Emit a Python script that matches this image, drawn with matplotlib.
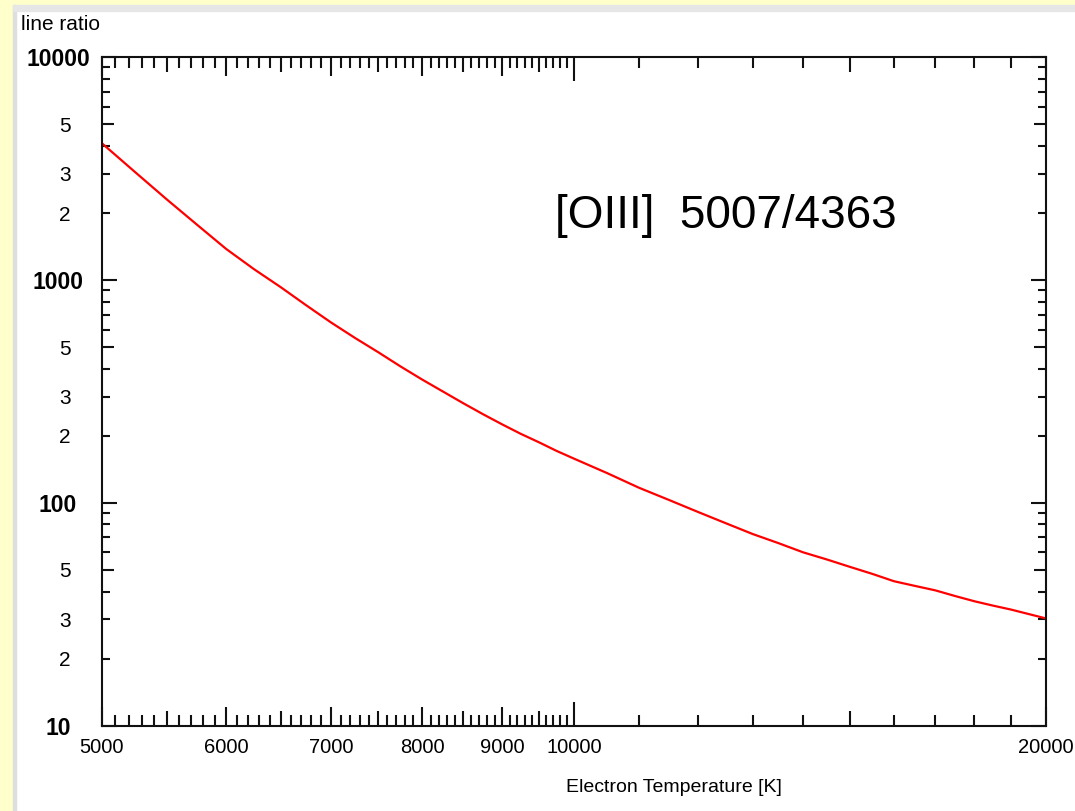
import numpy as np
import matplotlib
matplotlib.use("Agg")
import matplotlib.pyplot as plt
from matplotlib.patches import Rectangle

# values
temp = [5000, 5250, 5500, 5750, 6000, 6250, 6500, 6750, 7000, 7250, 7500, 7750,
        8000, 8250, 8500, 8750, 9000, 9250, 9500, 9750, 10000,
        10500, 11000, 11500, 12000, 12500, 13000, 13500, 14000, 14500, 15000,
        15500, 16000, 16500, 17000, 17500, 18000, 18500, 19000, 19500, 20000]
ratio = [4110, 3050, 2300, 1770, 1380, 1120, 930, 770, 645, 550, 475, 410,
         358, 316, 280, 250, 225, 204, 187, 171, 158,
         136, 117, 103, 91, 81, 72.5, 66, 60, 55.7, 51.6,
         48, 44.5, 42.4, 40.5, 38.2, 36.2, 34.6, 33.2, 31.7, 30.3]

x_major = [5000, 6000, 7000, 8000, 9000, 10000, 20000]
x_major_lab = ["5000", "6000", "7000", "8000", "9000", "10000", "20000"]
x_minor = [t for t in range(5100, 10000, 100) if t % 1000 != 0] + list(range(11000, 20000, 1000))
y_major = [10, 100, 1000, 10000]
y_major_lab = ["10", "100", "1000", "10000"]
y_minor = [m * d for d in (10, 100, 1000) for m in range(2, 10)]
y_minor_lab = [str(m) if m in (2, 3, 5) else "" for d in (10, 100, 1000) for m in range(2, 10)]

fam = ["Liberation Sans", "DejaVu Sans"]
px = 0.72  # points per pixel at dpi 100

fig = plt.figure(figsize=(10.75, 8.11), dpi=100, facecolor="white")
W, H = 1075, 811
# yellow page border + grey frame
fig.patches.append(Rectangle((0, 0), 13 / W, 1, transform=fig.transFigure, color="#FFFFCC", zorder=0))
fig.patches.append(Rectangle((0, 1 - 5 / H), 1, 5 / H, transform=fig.transFigure, color="#FFFFCC", zorder=0))
fig.patches.append(Rectangle((13 / W, 0), 3 / W, 1 - 5 / H, transform=fig.transFigure, color="#DEDEDE", zorder=0))
fig.patches.append(Rectangle((13 / W, 1 - 11 / H), 1, 6 / H, transform=fig.transFigure, color="#E6E6E6", zorder=0))

ax = fig.add_axes([102 / W, 85.3 / H, 944 / W, 668.4 / H])
ax.plot(temp, ratio, color="#FF0000", lw=1.6)
ax.set_xscale("log")
ax.set_yscale("log")
ax.set_xlim(5000, 20000)
ax.set_ylim(10, 10000)

for s in ax.spines.values():
    s.set_linewidth(1.5)
    s.set_color("#111111")

ax.set_xticks(x_major, labels=x_major_lab)
ax.set_xticks(x_minor, labels=[""] * len(x_minor), minor=True)
ax.set_yticks(y_major, labels=y_major_lab)
ax.set_yticks(y_minor, labels=y_minor_lab, minor=True)

ax.tick_params(which="both", direction="in", top=True, right=True, width=1.5, color="#111111")
ax.tick_params(axis="x", which="major", length=19 * px, pad=12 * px, labelsize=14.5,
               labelfontfamily=fam)
ax.tick_params(axis="x", which="minor", length=11 * px)
ax.tick_params(axis="y", which="major", length=15 * px, pad=44 * px, labelsize=16.5,
               labelfontfamily=fam)
ax.tick_params(axis="y", which="minor", length=8 * px, pad=37 * px, labelsize=15,
               labelfontfamily=fam)

for lab in ax.get_yticklabels():
    lab.set_fontweight("bold")
    lab.set_horizontalalignment("center")
for lab in ax.get_yticklabels(minor=True):
    lab.set_horizontalalignment("center")

# medium-length ticks
for t in ax.xaxis.get_minor_ticks():
    if t.get_loc() in (5500, 6500, 7500, 8500, 9500, 15000):
        t.tick1line.set_markersize(15 * px)
        t.tick2line.set_markersize(15 * px)
for t in ax.xaxis.get_major_ticks():
    if t.get_loc() == 10000:
        t.tick1line.set_markersize(24 * px)
        t.tick2line.set_markersize(24 * px)
for t in ax.yaxis.get_minor_ticks():
    v = t.get_loc()
    if round(v / 10 ** np.floor(np.log10(v))) == 5:
        t.tick1line.set_markersize(12 * px)
        t.tick2line.set_markersize(12 * px)

ax.set_xlabel("Electron Temperature [K]", fontsize=14, family=fam, va="center")
ax.xaxis.set_label_coords((674 - 102) / 944, (725.7 - 788) / 668.4)

fig.text(21 / W, 1 - 24 / H, "line ratio", fontsize=15, family=fam, va="center", ha="left")
ax.text((555 - 102) / 944, (725.7 - 216) / 668.4, "[OIII]  5007/4363", transform=ax.transAxes,
        fontsize=33, family=fam, va="center", ha="left")

fig.savefig("out.png", dpi=100, facecolor=fig.get_facecolor())
